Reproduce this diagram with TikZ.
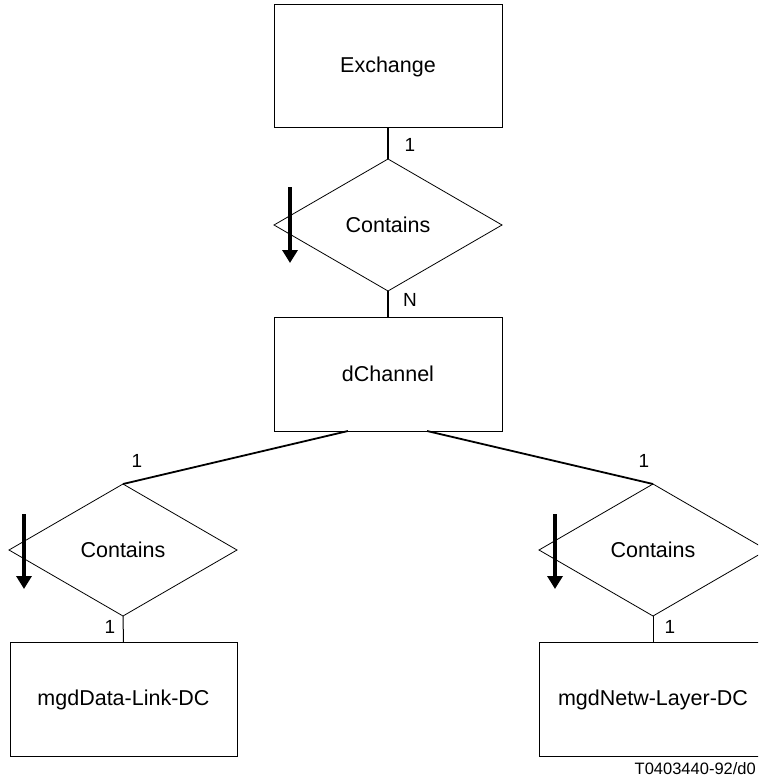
\documentclass[tikz,border=0pt]{standalone}
\usepackage{fontspec}
\setmainfont{Liberation Sans}
\usetikzlibrary{shapes.geometric,arrows.meta,calc}
\begin{document}
\begin{tikzpicture}[x=1pt,y=-1pt,
  entity/.style={draw,line width=1pt,minimum width=228pt,minimum height=%
    114pt,inner sep=0pt,outer sep=0pt,font=\fontsize{21.5}{24}\selectfont},
  relation/.style={draw,line width=0.8pt,diamond,aspect=1.727,minimum width=228pt,
    minimum height=132pt,inner sep=0pt,outer sep=0pt,font=\fontsize{21.5}{24}\selectfont},
  link/.style={line width=1.8pt},
  card/.style={font=\fontsize{19}{22}\selectfont,inner sep=0pt},
  dirarrow/.style={line width=4.5pt,-{Triangle[width=15pt,length=13pt]}},
  tag/.style={font=\fontsize{16.5}{19}\selectfont,inner sep=0pt}]
\clip (0,0) rectangle (758,778);
\fill[white] (0,0) rectangle (758,778);

\node[entity,minimum height=123pt] (ex) at (388,66.5) {Exchange};
\node[relation] (r1) at (388,225) {Contains};
\node[entity] (dch) at (388,374) {dChannel};
\node[relation] (r2) at (123,550) {Contains};
\node[relation] (r3) at (653,550) {Contains};
\node[entity,minimum width=227pt] (b1) at (123.5,699.5) {mgdData-Link-DC};
\node[entity] (b2) at (653,699.5) {mgdNetw-Layer-DC};

\draw[link] (ex.south) -- (r1.north);
\draw[link] (r1.south) -- (dch.north);
\draw[link] ([xshift=-40pt]dch.south) -- (r2.north);
\draw[link] ([xshift=39pt]dch.south) -- (r3.north);
\draw[line width=1pt] (r2.south) -- (b1.north);
\draw[line width=1pt] (r3.south) -- (b2.north);

\node[card] (c1) at (410,145) {1};
\node[card] (c2) at (410,300) {N};
\node[card] (c3) at (137,461) {1};
\node[card] (c4) at (110,627) {1};
\node[card] (c5) at (644,461) {1};
\node[card] (c6) at (670,627) {1};

\coordinate (a1s) at (290,187);
\coordinate (a1e) at (290,263);
\coordinate (a2s) at (24,514);
\coordinate (a2e) at (24,589);
\coordinate (a3s) at (555,514);
\coordinate (a3e) at (555,589);
\draw[dirarrow] (a1s) -- (a1e);
\draw[dirarrow] (a2s) -- (a2e);
\draw[dirarrow] (a3s) -- (a3e);

\node[tag,anchor=east] (ft) at (756,769) {T0403440-92/d0};
\end{tikzpicture}
\end{document}
